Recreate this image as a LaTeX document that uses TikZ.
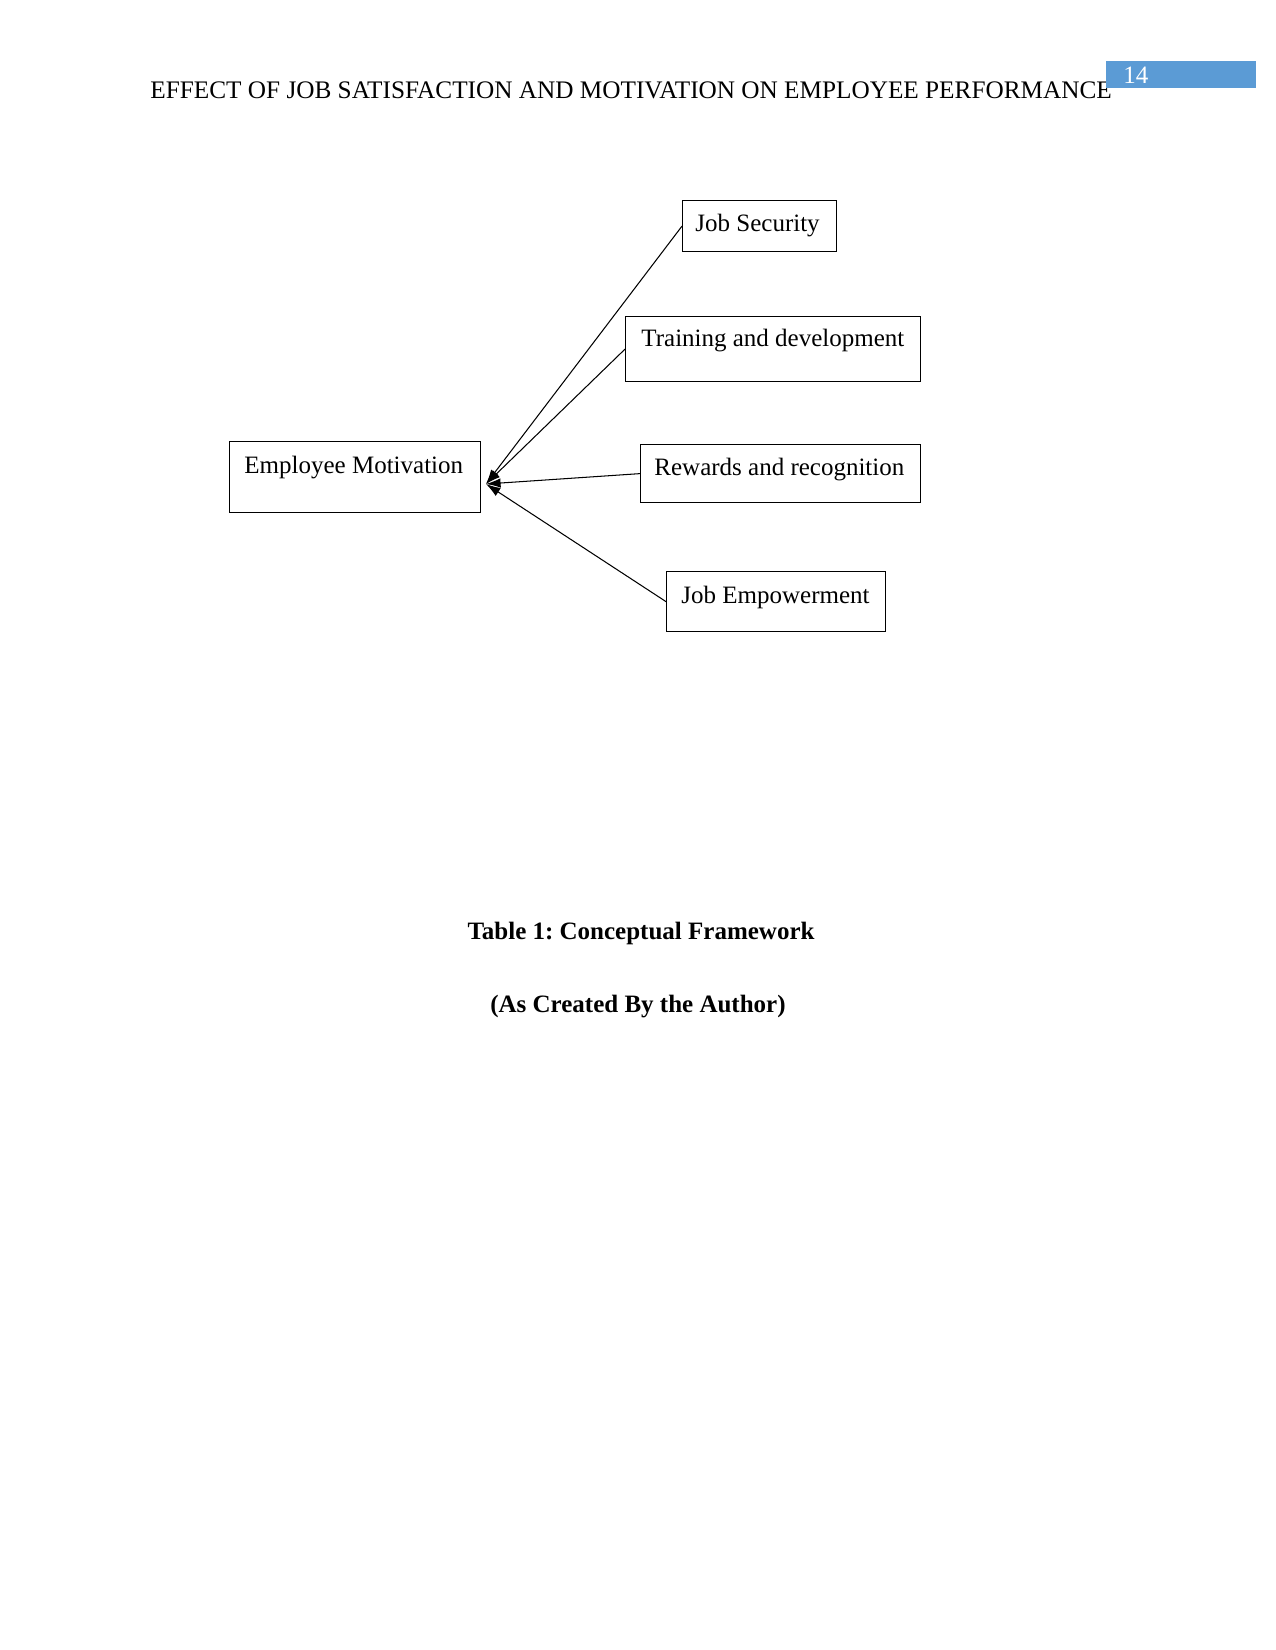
\documentclass[tikz,border=0pt]{standalone}
\usepackage{fontspec}
\setmainfont{Liberation Serif}
\usetikzlibrary{arrows.meta}
\definecolor{hdrblue}{HTML}{5B9BD5}
\frenchspacing
\begin{document}
\begin{tikzpicture}[x=0.48pt,y=-0.48pt,
  box/.style={draw,line width=0.6pt,inner sep=0pt,anchor=north west},
  lbl/.style={anchor=base west,inner sep=0pt,font=\fontsize{12}{14}\selectfont},
  link/.style={line width=0.5pt,-{Latex[length=7pt,width=4.5pt]}}]
\useasboundingbox (0,0) rectangle (1275,1650);
\fill[white] (0,0) rectangle (1275,1650);
% header
\node[lbl,font=\fontsize{12.12}{14}\selectfont] (hdr) at (150,99) {EFFECT OF JOB SATISFACTION AND MOTIVATION ON EMPLOYEE PERFORMANCE};
\node[fill=hdrblue,inner sep=0pt,anchor=north west,minimum width=150*0.48pt,minimum height=27*0.48pt] (pgbox) at (1106,61) {};
\node[lbl,text=white] (pgnum) at (1123,84) {14};
% boxes
\node[box,minimum width=154*0.48pt,minimum height=51*0.48pt] (js) at (682,200) {};
\node[lbl] (jsl) at (695,232) {Job Security};
\node[box,minimum width=295*0.48pt,minimum height=65*0.48pt] (td) at (625,316) {};
\node[lbl] (tdl) at (641,347) {Training and development};
\node[box,minimum width=280*0.48pt,minimum height=58*0.48pt] (rr) at (640,444) {};
\node[lbl] (rrl) at (654,476) {Rewards and recognition};
\node[box,minimum width=219*0.48pt,minimum height=60*0.48pt] (je) at (666,571) {};
\node[lbl] (jel) at (681,603) {Job Empowerment};
\node[box,minimum width=251*0.48pt,minimum height=71*0.48pt] (em) at (229,441) {};
\node[lbl] (eml) at (244,473) {Employee Motivation};
\coordinate (tip) at (486,484);
% connectors
\draw[link] (js.west) -- (tip);
\draw[link] (td.west) -- (tip);
\draw[link] (rr.west) -- (tip);
\draw[link] (je.west) -- (tip);
% captions
\node[anchor=base,inner sep=0pt,font=\fontsize{12}{14}\selectfont\bfseries] (cap1) at (641,939) {Table 1: Conceptual Framework};
\node[anchor=base,inner sep=0pt,font=\fontsize{12}{14}\selectfont\bfseries] (cap2) at (638,1012) {(As Created By the Author)};
\end{tikzpicture}
\end{document}
